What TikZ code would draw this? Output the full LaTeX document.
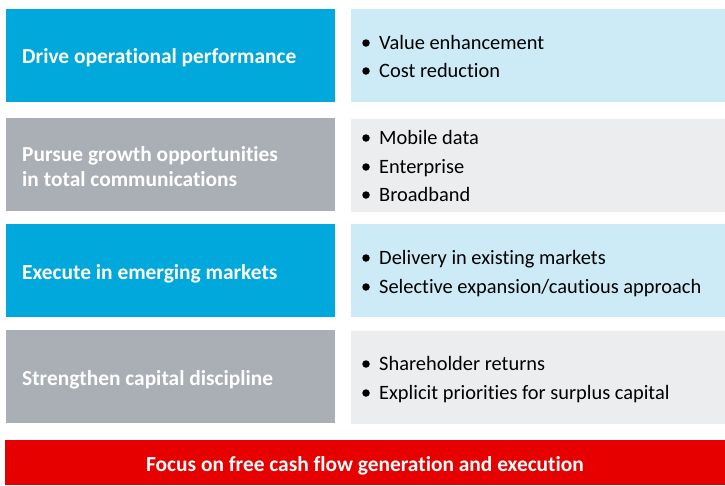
\documentclass[tikz,border=0pt]{standalone}
\usepackage{fontspec}
\setmainfont[Ligatures=NoCommon]{Carlito}
\definecolor{vblue}{HTML}{00A8DC}
\definecolor{vlblue}{HTML}{CCEBF6}
\definecolor{vgray}{HTML}{A9AFB5}
\definecolor{vlgray}{HTML}{ECEDEF}
\definecolor{vred}{HTML}{E60000}
\begin{document}
\begin{tikzpicture}[x=1pt,y=-1pt,
  lbox/.style={anchor=north west,inner sep=0pt,minimum width=329pt,minimum height=93pt},
  rbox/.style={anchor=north west,inner sep=0pt,minimum width=375pt,minimum height=93pt},
  ttl/.style={anchor=base west,inner sep=0pt,text=white,font=\fontsize{21.4}{25}\selectfont\bfseries},
  itm/.style={anchor=base west,inner sep=0pt,text=black,font=\fontsize{20.4}{25}\selectfont},
  dot/.style={circle,fill=black,inner sep=0pt,minimum size=7.5pt}]
\useasboundingbox (0,0) rectangle (725,485);
\fill[white] (0,0) rectangle (725,485);
% row boxes
\node[lbox,fill=vblue] (l1) at (6,9) {};
\node[rbox,fill=vlblue] (r1) at (351,9) {};
\node[lbox,fill=vgray] (l2) at (6,118) {};
\node[rbox,fill=vlgray] (r2) at (351,119) {};
\node[lbox,fill=vblue] (l3) at (6,224) {};
\node[rbox,fill=vlblue] (r3) at (351,224) {};
\node[lbox,fill=vgray] (l4) at (6,330) {};
\node[rbox,fill=vlgray] (r4) at (351,331) {};
\node[anchor=north west,inner sep=0pt,minimum width=720pt,minimum height=45pt,fill=vred] (bar) at (5,440) {};
% titles
\node[ttl] (t1) at (22,63) {Drive operational performance};
\node[ttl] (t2a) at (22,161) {Pursue growth opportunities};
\node[ttl] (t2b) at (22,186) {in total communications};
\node[ttl] (t3) at (22,279) {Execute in emerging markets};
\node[ttl] (t4) at (22,385) {Strengthen capital discipline};
\node[ttl,anchor=base] (t5) at (365,471) {Focus on free cash flow generation and execution};
% bullets
\node[dot] (d11) at (366,43) {}; \node[itm] (i11) at (379,49) {Value enhancement};
\node[dot] (d12) at (366,71) {}; \node[itm] (i12) at (379,77) {Cost reduction};
\node[dot] (d21) at (366,138) {}; \node[itm] (i21) at (379,144) {Mobile data};
\node[dot] (d22) at (366,167) {}; \node[itm] (i22) at (379,173) {Enterprise};
\node[dot] (d23) at (366,195) {}; \node[itm] (i23) at (379,201) {Broadband};
\node[dot] (d31) at (366,258) {}; \node[itm] (i31) at (379,264) {Delivery in existing markets};
\node[dot] (d32) at (366,287) {}; \node[itm] (i32) at (379,293) {Selective expansion/cautious approach};
\node[dot] (d41) at (366,364) {}; \node[itm] (i41) at (379,370) {Shareholder returns};
\node[dot] (d42) at (366,393) {}; \node[itm] (i42) at (379,399) {Explicit priorities for surplus capital};
\end{tikzpicture}
\end{document}
